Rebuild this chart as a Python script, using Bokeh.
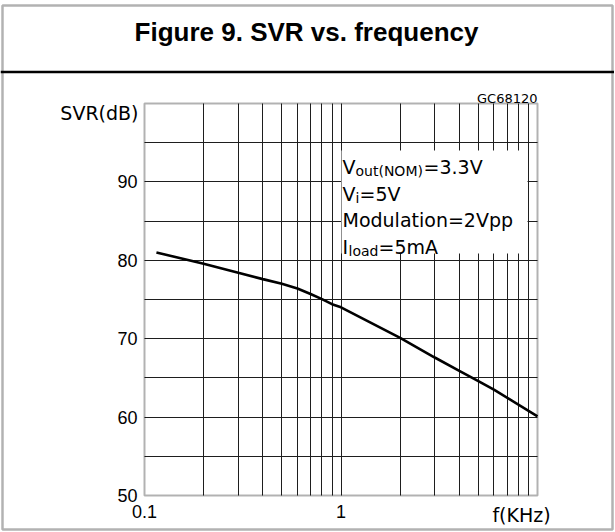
from bokeh.plotting import figure
from bokeh.models import FixedTicker, CustomJSTickFormatter, Label, BoxAnnotation, Span
from bokeh.embed import file_html
from bokeh.resources import INLINE

# ---- data ----
freq_khz = [0.115, 0.2, 0.3, 0.4, 0.5, 0.6, 0.7, 0.8, 0.9, 1.0, 2.0, 3.0, 4.0, 5.0, 6.0, 10.0]
svr_db = [81.0, 79.55, 78.4, 77.6, 77.0, 76.4, 75.7, 75.05, 74.4, 74.0, 70.1, 67.6, 65.9, 64.6, 63.5, 60.1]

y_ticks = [50, 60, 70, 80, 90]
x_ticks = [0.1, 1]
y_grid = [55, 60, 65, 70, 75, 80, 85, 90, 95]
x_grid = [0.2, 0.3, 0.4, 0.5, 0.6, 0.7, 0.8, 0.9, 1, 2, 3, 4, 5, 6, 7, 8, 9]
x_lim = (0.1, 10)
y_lim = (50, 100)

title_text = "Figure 9. SVR vs. frequency"
y_label = "SVR(dB)"
x_label = "f(KHz)"
code_text = "GC68120"

W, H = 614, 531
TECH = "DejaVu Sans"
NUM = "Liberation Sans"

# plot-region position in canvas pixels
FL, FR, FT, FB = 144, 537, 103, 495
DEC = (FR - FL) / 2.0
DB = (FB - FT) / 50.0


def dx(px):
    return 0.1 * 10 ** ((px - FL) / DEC)


def dy(py):
    return 50 + (FB - py) / DB


p = figure(width=W, height=H, x_axis_type="log",
           x_range=(dx(0), dx(W)), y_range=(dy(H), dy(0)),
           output_backend="svg", toolbar_location=None,
           min_border_left=0, min_border_right=0, min_border_top=0, min_border_bottom=0)
p.title.visible = False
p.background_fill_color = "white"
p.border_fill_color = "white"
p.outline_line_color = None

# grids limited to the plot region
p.xgrid.ticker = FixedTicker(ticks=x_grid)
p.ygrid.ticker = FixedTicker(ticks=y_grid)
p.xgrid.cross_bounds = y_lim
p.ygrid.cross_bounds = x_lim
for g in (p.xgrid, p.ygrid):
    g.grid_line_color = "#1e1e1e"
    g.grid_line_width = 1
    g.grid_line_alpha = 1

# axes fixed at the plot-region edges
p.xaxis.ticker = FixedTicker(ticks=x_ticks)
p.yaxis.ticker = FixedTicker(ticks=y_ticks)
p.xaxis.formatter = CustomJSTickFormatter(code="return String(tick)")
p.xaxis.fixed_location = y_lim[0]
p.yaxis.fixed_location = x_lim[0]
for ax in (p.xaxis, p.yaxis):
    ax.axis_line_color = None
    ax.major_tick_line_color = None
    ax.minor_tick_line_color = None
    ax.major_tick_out = 0
    ax.major_tick_in = 0
    ax.major_label_text_font = NUM
    ax.major_label_text_font_size = "18px"
    ax.major_label_text_color = "black"
p.xaxis.major_label_standoff = 9
p.yaxis.major_label_standoff = 7

# curve
p.line(freq_khz, svr_db, line_color="black", line_width=2.6)

# condition box (white, hides grid)
p.add_layout(BoxAnnotation(left=dx(341), right=dx(527), top=dy(150), bottom=dy(253),
                           fill_color="white", fill_alpha=1, line_color=None))

# plot region outline
p.add_layout(BoxAnnotation(left=x_lim[0], right=x_lim[1], bottom=y_lim[0], top=y_lim[1],
                           fill_alpha=0, line_color="black", line_width=2))

# outer border and title divider
p.add_layout(BoxAnnotation(left=dx(2), right=dx(612), top=dy(5), bottom=dy(529),
                           fill_alpha=0, line_color="black", line_width=2.5))
p.add_layout(Span(location=dy(71.5), dimension="width", line_color="black", line_width=2.5))


def lab(text, px, py, font=TECH, size="19px", align="left", baseline="alphabetic", style="normal"):
    p.add_layout(Label(x=dx(px), y=dy(py), text=text, text_font=font, text_font_size=size,
                       text_align=align, text_baseline=baseline, text_color="black",
                       text_font_style=style))


lab(title_text, 306, 31, font=NUM, size="26px", align="center", style="bold")
lab(code_text, 537, 98, size="13px", align="right")
lab(y_label, 138, 112, align="right", baseline="middle")
lab(x_label, 521, 514, align="center", baseline="middle")

# conditions text
lab("V", 342, 166)
lab("out(NOM)", 355, 170, size="14px")
lab("=3.3V", 423, 166)
lab("V", 342, 193)
lab("i", 355, 197, size="14px")
lab("=5V", 359, 193)
lab("Modulation=2Vpp", 342, 219.5)
lab("I", 342, 246)
lab("load", 348, 250, size="14px")
lab("=5mA", 378, 246)

open("out.html", "w").write(file_html(p, INLINE))
